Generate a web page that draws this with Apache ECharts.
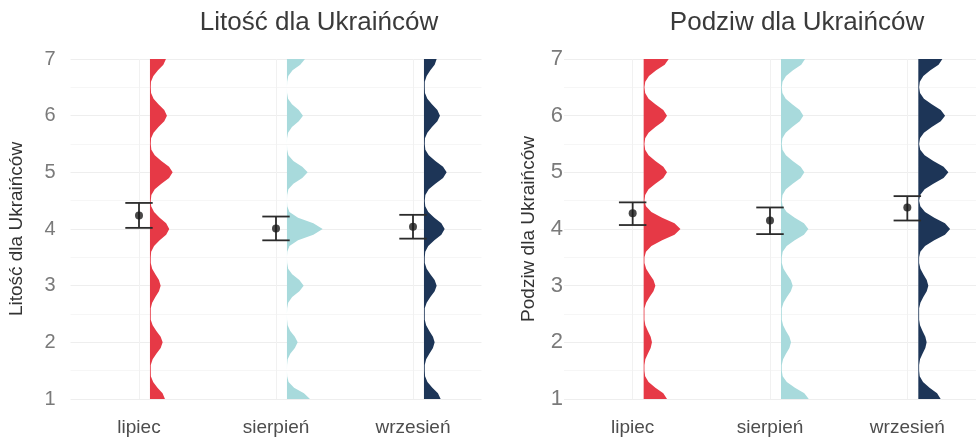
<!DOCTYPE html>
<html>
<head>
<meta charset="utf-8">
<script src="https://cdn.jsdelivr.net/npm/echarts@6/dist/echarts.min.js"></script>
<style>
html,body{margin:0;padding:0;background:#fff;}
#chart{width:979px;height:437px;}
</style>
</head>
<body>
<div id="chart"></div>
<script>
// ---------- data ----------
const categories = ['lipiec', 'sierpień', 'wrzesień'];
const yTicks = [1, 2, 3, 4, 5, 6, 7];

// mean and 95% CI (error bars)
const litoscMean = [4.24, 4.01, 4.04];
const litoscLow  = [4.02, 3.80, 3.83];
const litoscHigh = [4.46, 4.22, 4.25];
const podziwMean = [4.28, 4.15, 4.38];
const podziwLow  = [4.07, 3.91, 4.15];
const podziwHigh = [4.47, 4.38, 4.58];

// half-violin density (relative) sampled at y = 1.0, 1.1, ..., 7.0
const densityY = [1,1.1,1.2,1.3,1.4,1.5,1.6,1.7,1.8,1.9,2,2.1,2.2,2.3,2.4,2.5,2.6,2.7,2.8,2.9,3,3.1,3.2,3.3,3.4,3.5,3.6,3.7,3.8,3.9,4,4.1,4.2,4.3,4.4,4.5,4.6,4.7,4.8,4.9,5,5.1,5.2,5.3,5.4,5.5,5.6,5.7,5.8,5.9,6,6.1,6.2,6.3,6.4,6.5,6.6,6.7,6.8,6.9,7];
const litoscLipiec   = [15,12.6,7.5,3.2,0.9,0.8,0.8,2.7,6.4,10.7, 12.7,10.7,6.4,2.7,0.8,0.8,0.8,2.2,5.4,9.0, 10.7,9.0,5.4,2.2,0.8,0.8,1.2,4.1,9.7,16.2, 19.3,16.2,9.7,4.1,1.2,0.8,1.4,4.8,11.4,19.1, 22.7,19.1,11.4,4.8,1.4,0.8,1.1,3.6,8.5,14.3, 17,14.3,8.5,3.6,1.1,0.8,1.0,3.4,8.0,13.4, 16];
const litoscSierpien = [23,17.0,7.1,1.6,0.2,0,0.1,0.7,3.3,7.9, 10.7,7.9,3.3,0.7,0.1,0,0.2,1.2,5.2,12.4, 16.7,12.4,5.2,1.2,0.2,0,0.3,2.5,11.1,26.4, 35.7,26.4,11.1,2.5,0.3,0,0.2,1.4,6.4,15.3, 20.7,15.3,6.4,1.4,0.2,0,0.1,1.1,5.0,11.8, 16,11.8,5.0,1.1,0.1,0,0.2,1.3,5.6,13.3, 18];
const litoscWrzesien = [16.7,14.0,8.4,3.5,1.1,0.8,0.8,2.2,5.4,9.0, 10.7,9.0,5.4,2.2,0.8,0.8,0.8,2.7,6.4,10.7, 12.7,10.7,6.4,2.7,0.8,0.8,1.3,4.3,10.4,17.4, 20.7,17.4,10.4,4.3,1.3,0.8,1.4,4.8,11.4,19.1, 22.7,19.1,11.4,4.8,1.4,0.8,1.0,3.4,8.0,13.4, 16,13.4,8.0,3.4,1.0,0.8,0.8,2.7,6.4,10.7, 12.7];
const podziwLipiec   = [23.3,19.6,11.7,4.9,1.5,0.8,0.8,1.7,4.2,7.0, 8.3,7.0,4.2,1.7,0.8,0.8,0.8,2.5,5.9,9.8, 11.7,9.8,5.9,2.5,0.8,0.8,2.3,7.7,18.4,30.8, 36.7,30.8,18.4,7.7,2.3,0.8,1.5,4.9,11.7,19.6, 23.3,19.6,11.7,4.9,1.5,0.8,1.5,4.9,11.7,19.6, 23.3,19.6,11.7,4.9,1.5,0.8,1.6,5.3,12.5,21.0, 25];
const podziwSierpien = [27.7,23.3,13.9,5.8,1.7,0.8,0.8,2.1,5.0,8.4, 10,8.4,5.0,2.1,0.8,0.8,0.8,2.5,5.9,9.8, 11.7,9.8,5.9,2.5,0.8,0.8,1.7,5.7,13.7,22.9, 27.3,22.9,13.7,5.7,1.7,0.8,1.5,4.9,11.7,19.6, 23.3,19.6,11.7,4.9,1.5,0.8,1.4,4.7,11.2,18.7, 22.3,18.7,11.2,4.7,1.4,0.8,1.5,5.0,12.0,20.2, 24];
const podziwWrzesien = [22.3,18.7,11.2,4.7,1.4,0.8,0.8,1.7,4.2,7.0, 8.3,7.0,4.2,1.7,0.8,0.8,0.8,2.1,5.0,8.4, 10,8.4,5.0,2.1,0.8,0.8,2.0,6.7,15.9,26.6, 31.7,26.6,15.9,6.7,2.0,0.8,1.9,6.3,15.0,25.2, 30,25.2,15.0,6.3,1.9,0.8,1.7,5.6,13.4,22.4, 26.7,22.4,13.4,5.6,1.7,0.8,1.5,5.0,12.0,20.2, 24];

// ---------- style ----------
const COLORS = ['#E63946', '#A8DADC', '#1D3557'];
const FONT = '"Liberation Sans", Arial, Helvetica, sans-serif';
const VIOLIN_OFFSET = 0.08;     // fraction of band
const DENS_TO_BAND = 1 / 137;   // density unit -> fraction of band
const CAP_HALF = 0.1;           // fraction of band

const chart = echarts.init(document.getElementById('chart'), null, {renderer: 'canvas'});

function violinRenderer(densSets) {
  return function (params, api) {
    const ci = api.value(0);
    const dens = densSets[ci];
    const band = api.size([1, 0])[0];
    const c0 = api.coord([ci, densityY[0]]);
    const cN = api.coord([ci, densityY[densityY.length - 1]]);
    const x0 = c0[0] + band * VIOLIN_OFFSET;
    const pts = [[x0, c0[1]]];
    for (let j = 0; j < densityY.length; j++) {
      const p = api.coord([ci, densityY[j]]);
      pts.push([x0 + dens[j] * band * DENS_TO_BAND, p[1]]);
    }
    pts.push([x0, cN[1]]);
    return {type: 'polygon', shape: {points: pts}, style: {fill: COLORS[ci]}};
  };
}

function errRenderer(params, api) {
  const ci = api.value(0);
  const lo = api.coord([ci, api.value(1)]);
  const hi = api.coord([ci, api.value(2)]);
  const band = api.size([1, 0])[0];
  const h = band * CAP_HALF;
  const st = {stroke: '#2b2b2b', lineWidth: 1.8};
  return {
    type: 'group',
    children: [
      {type: 'line', shape: {x1: lo[0], y1: lo[1], x2: hi[0], y2: hi[1]}, style: st},
      {type: 'line', shape: {x1: lo[0] - h, y1: lo[1], x2: lo[0] + h, y2: lo[1]}, style: st},
      {type: 'line', shape: {x1: hi[0] - h, y1: hi[1], x2: hi[0] + h, y2: hi[1]}, style: st}
    ]
  };
}

function makeX(gi) {
  return {
    type: 'category', gridIndex: gi, data: categories, boundaryGap: true,
    axisLine: {show: false}, axisTick: {show: false},
    axisLabel: {fontSize: 19, color: '#4d4d4d', margin: 19, fontFamily: FONT},
    splitLine: {show: true, alignWithLabel: true, lineStyle: {color: '#f1f1f1', width: 1}}
  };
}
function makeY(gi, name, labelSize, margin, nameGap) {
  return {
    type: 'value', gridIndex: gi, min: yTicks[0], max: yTicks[yTicks.length - 1], interval: 1,
    name: name, nameLocation: 'middle', nameGap: nameGap,
    nameTextStyle: {fontSize: 19, color: '#333', fontFamily: FONT},
    axisLine: {show: false}, axisTick: {show: false},
    axisLabel: {fontSize: labelSize, color: '#7a7a7a', margin: margin, fontFamily: FONT},
    splitLine: {show: true, lineStyle: {color: '#eeeeee', width: 1}},
    minorTick: {show: false, splitNumber: 2},
    minorSplitLine: {show: true, lineStyle: {color: '#f6f6f6', width: 1}}
  };
}

const idx = categories.map((c, i) => [i]);

const option = {
  backgroundColor: '#ffffff',
  animation: false,
  title: [
    {text: 'Litość dla Ukraińców', left: 314, top: 5, textAlign: 'center',
     textStyle: {fontSize: 26, fontWeight: 'normal', color: '#3a3a3a', fontFamily: FONT}},
    {text: 'Podziw dla Ukraińców', left: 792, top: 5, textAlign: 'center',
     textStyle: {fontSize: 26, fontWeight: 'normal', color: '#3a3a3a', fontFamily: FONT}}
  ],
  grid: [
    {left: 70.5, width: 411, top: 59, height: 341},
    {left: 564, width: 412, top: 59, height: 341}
  ],
  xAxis: [makeX(0), makeX(1)],
  yAxis: [
    makeY(0, 'Litość dla Ukraińców', 20, 15, 44),
    makeY(1, 'Podziw dla Ukraińców', 22, 1, 26)
  ],
  series: [
    {type: 'custom', xAxisIndex: 0, yAxisIndex: 0, data: idx,
     renderItem: violinRenderer([litoscLipiec, litoscSierpien, litoscWrzesien]), z: 2},
    {type: 'custom', xAxisIndex: 1, yAxisIndex: 1, data: idx,
     renderItem: violinRenderer([podziwLipiec, podziwSierpien, podziwWrzesien]), z: 2},
    {type: 'custom', xAxisIndex: 0, yAxisIndex: 0, z: 3,
     data: categories.map((c, i) => [i, litoscLow[i], litoscHigh[i]]), renderItem: errRenderer},
    {type: 'custom', xAxisIndex: 1, yAxisIndex: 1, z: 3,
     data: categories.map((c, i) => [i, podziwLow[i], podziwHigh[i]]), renderItem: errRenderer},
    {type: 'scatter', xAxisIndex: 0, yAxisIndex: 0, z: 4, symbol: 'circle', symbolSize: 8,
     itemStyle: {color: '#1a1a1a'}, data: categories.map((c, i) => [i, litoscMean[i]])},
    {type: 'scatter', xAxisIndex: 1, yAxisIndex: 1, z: 4, symbol: 'circle', symbolSize: 8,
     itemStyle: {color: '#1a1a1a'}, data: categories.map((c, i) => [i, podziwMean[i]])}
  ]
};
chart.setOption(option);
</script>
</body>
</html>
